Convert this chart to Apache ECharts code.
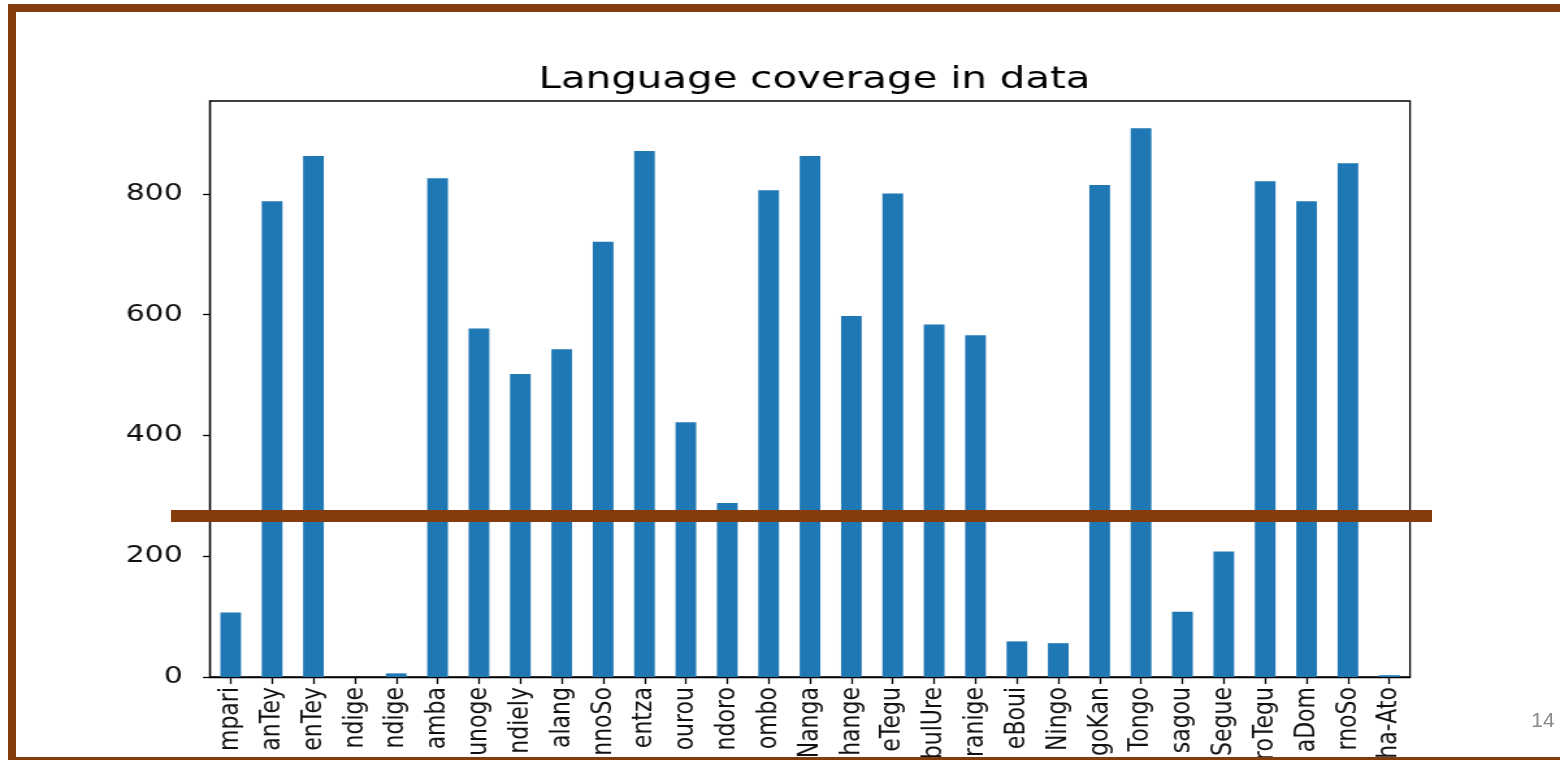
<!DOCTYPE html>
<html>
<head>
<meta charset="utf-8">
<title>Language coverage in data</title>
<script src="https://cdn.jsdelivr.net/npm/echarts@6/dist/echarts.min.js"></script>
<style>
  html, body { margin: 0; padding: 0; background: #fff; overflow: hidden; }
  /* the chart picture on the slide is stretched sideways */
  #plot { position: absolute; left: 0; top: 0; width: 1200px; height: 760px;
          transform: scaleX(1.3); transform-origin: 0 0; }
  #slide { position: absolute; left: 0; top: 0; width: 1560px; height: 760px; pointer-events: none; }
</style>
</head>
<body>
<div id="plot"></div>
<div id="slide"></div>
<script>
/* Data */
const languages = [
  "mpari", "anTey", "enTey", "ndige", "ndige", "amba", "unoge", "ndiely", "alang", "nnoSo",
  "entza", "ourou", "ndoro", "ombo", "Nanga", "hange", "eTegu", "bulUre", "ranige", "eBoui",
  "Ningo", "goKan", "Tongo", "sagou", "Segue", "roTegu", "aDom", "rnoSo", "ha-Ato"
];
const counts = [
  107, 788, 863, 0, 6, 826, 577, 502, 543, 721,
  871, 422, 288, 806, 863, 598, 801, 584, 566, 59,
  56, 815, 909, 108, 208, 821, 788, 851, 3
];
const yTicks = [0, 200, 400, 600, 800];

const SX = 1.3;               // horizontal stretch of the plot picture
const FONT = "'DejaVu Sans', sans-serif";
const BROWN = "#843C0C";

/* Bar chart (drawn in unstretched coords, then scaled by CSS) */
const plot = echarts.init(document.getElementById("plot"));
plot.setOption({
  animation: false,
  backgroundColor: "transparent",
  title: {
    text: "Language coverage in data",
    left: 808 / SX,
    top: 59,
    textAlign: "center",
    textStyle: { color: "#000", fontFamily: FONT, fontSize: 31, fontWeight: "normal" }
  },
  grid: {
    left: 210 / SX, top: 101, width: 1200 / SX, height: 576,
    outerBoundsMode: "none",
    show: true, borderColor: "#000", borderWidth: 1.3, containLabel: false
  },
  xAxis: {
    type: "category",
    data: languages,
    boundaryGap: true,
    axisLine: { show: true, lineStyle: { color: "#000", width: 1.3 } },
    axisTick: { show: true, alignWithLabel: true, length: 7, lineStyle: { color: "#000", width: 1.3 } },
    axisLabel: {
      interval: 0, rotate: 90, margin: 10,
      color: "#111", fontFamily: FONT, fontSize: 22
    },
    splitLine: { show: false }
  },
  yAxis: {
    type: "value",
    min: 0,
    max: 954,
    axisLine: { show: true, lineStyle: { color: "#000", width: 1.3 } },
    axisTick: { show: true, customValues: yTicks, length: 7 / SX, lineStyle: { color: "#000", width: 1.3 } },
    axisLabel: {
      customValues: yTicks, margin: 21,
      color: "#111", fontFamily: FONT, fontSize: 23
    },
    splitLine: { show: false }
  },
  series: [{
    type: "bar",
    data: counts,
    barWidth: "50%",
    itemStyle: { color: "#1f77b4" }
  }]
});

/* Slide decorations: frame, brown rule, page number */
const slide = echarts.init(document.getElementById("slide"));
slide.setOption({
  animation: false,
  backgroundColor: "transparent",
  graphic: [
    { type: "rect", shape: { x: 8, y: 4, width: 1552, height: 8 }, style: { fill: BROWN } },
    { type: "rect", shape: { x: 8, y: 4, width: 8, height: 756 }, style: { fill: BROWN } },
    { type: "rect", shape: { x: 8, y: 757, width: 1552, height: 4 }, style: { fill: BROWN } },
    { type: "rect", shape: { x: 171, y: 510, width: 1261, height: 12 }, style: { fill: BROWN } },
    {
      type: "text", x: 1543, y: 721,
      style: { text: "14", fill: "#8a8a8a", font: "21px 'Liberation Sans', sans-serif",
               textAlign: "center", textVerticalAlign: "middle" }
    }
  ]
});
</script>
</body>
</html>
